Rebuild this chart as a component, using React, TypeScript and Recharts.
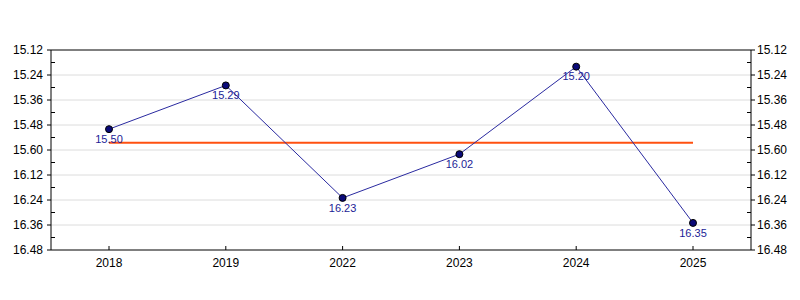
import React from "react";
import {
  LineChart,
  Line,
  XAxis,
  YAxis,
  ReferenceLine,
  LabelList,
} from "recharts";

// years on the x axis
const years = ["2018", "2019", "2022", "2023", "2024", "2025"];
// times as shown on the chart (minutes.seconds)
const times = ["15.50", "15.29", "16.23", "16.02", "15.20", "16.35"];
// y axis tick labels, top to bottom
const yTickLabels = [
  "15.12", "15.24", "15.36", "15.48", "15.60",
  "16.12", "16.24", "16.36", "16.48",
];
// average line (about 15.56–15.57)
const averageTime = "15.56.5";

const toSeconds = (t: string) => {
  const [m, s, frac] = t.split(".");
  return Number(m) * 60 + Number(s) + (frac ? Number(frac) / 10 : 0);
};

const data = years.map((year, i) => ({
  year,
  value: toSeconds(times[i]),
  label: times[i],
}));

const yTicks = yTickLabels.map(toSeconds);
const halfStep = (yTicks[1] - yTicks[0]) / 2;
const minorTicks = yTicks.slice(0, -1).map((v) => v + halfStep);
const allYTicks = [...yTicks, ...minorTicks].sort((a, b) => a - b);
const avg = toSeconds(averageTime);

const FONT = "'Liberation Sans', Arial, sans-serif";

function labelFor(v: number) {
  const i = yTicks.indexOf(v);
  return i >= 0 ? yTickLabels[i] : null;
}

function LeftTick({ x, y, payload }: any) {
  const label = labelFor(payload.value);
  if (label === null) {
    return <line x1={x} y1={y} x2={x + 4} y2={y} stroke="#000" />;
  }
  return (
    <g>
      <line x1={x - 4} y1={y} x2={x} y2={y} stroke="#000" />
      <text x={x - 8} y={y + 4} textAnchor="end" fontSize={12} fontFamily={FONT} fill="#000">
        {label}
      </text>
    </g>
  );
}

function RightTick({ x, y, payload }: any) {
  const label = labelFor(payload.value);
  if (label === null) {
    return <line x1={x - 4} y1={y} x2={x} y2={y} stroke="#000" />;
  }
  return (
    <g>
      <line x1={x} y1={y} x2={x + 4} y2={y} stroke="#000" />
      <text x={x + 6} y={y + 4} textAnchor="start" fontSize={12} fontFamily={FONT} fill="#000">
        {label}
      </text>
    </g>
  );
}

function BottomTick({ x, y, payload }: any) {
  return (
    <g>
      <line x1={x} y1={y} x2={x} y2={y - 4} stroke="#000" />
      <text x={x} y={y + 17} textAnchor="middle" fontSize={12} fontFamily={FONT} fill="#000">
        {payload.value}
      </text>
    </g>
  );
}

export default function App() {
  return (
    <div style={{ position: "absolute", left: 0, top: 0, background: "#fff" }}>
      <LineChart
        width={800}
        height={300}
        data={data}
        margin={{ top: 50, right: 0, left: 0, bottom: 20 }}
      >
        {yTicks.slice(1, -1).map((v) => (
          <ReferenceLine key={v} yAxisId="left" y={v} stroke="#dcdcdc" strokeWidth={1} />
        ))}
        <ReferenceLine
          yAxisId="left"
          y={yTicks[0]}
          stroke="#000"
          strokeWidth={1}
        />

        <XAxis
          dataKey="year"
          height={30}
          padding={{ left: 58, right: 58 }}
          axisLine={{ stroke: "#000" }}
          tickLine={false}
          tickSize={0}
          tickMargin={0}
          tick={<BottomTick />}
          interval={0}
        />
        <YAxis
          yAxisId="left"
          orientation="left"
          width={51}
          reversed
          domain={[yTicks[0], yTicks[yTicks.length - 1]]}
          ticks={allYTicks}
          interval={0}
          allowDataOverflow
          axisLine={{ stroke: "#000" }}
          tickLine={false}
          tickSize={0}
          tickMargin={0}
          tick={<LeftTick />}
        />
        <YAxis
          yAxisId="right"
          orientation="right"
          width={49}
          reversed
          domain={[yTicks[0], yTicks[yTicks.length - 1]]}
          ticks={allYTicks}
          interval={0}
          allowDataOverflow
          axisLine={{ stroke: "#000" }}
          tickLine={false}
          tickSize={0}
          tickMargin={0}
          tick={<RightTick />}
        />

        <ReferenceLine
          yAxisId="left"
          segment={[
            { x: years[0], y: avg },
            { x: years[years.length - 1], y: avg },
          ]}
          stroke="#ff5010"
          strokeWidth={2}
        />

        <Line
          yAxisId="left"
          dataKey="value"
          stroke="#2a2aa0"
          strokeWidth={1}
          isAnimationActive={false}
          dot={{ r: 3.5, fill: "#0a0a78", stroke: "#000", strokeWidth: 1 }}
          activeDot={false}
        >
          <LabelList
            dataKey="label"
            position="bottom"
            offset={6}
            fill="#1c1c96"
            fontSize={11}
            fontFamily={FONT}
          />
        </Line>
      </LineChart>
    </div>
  );
}
